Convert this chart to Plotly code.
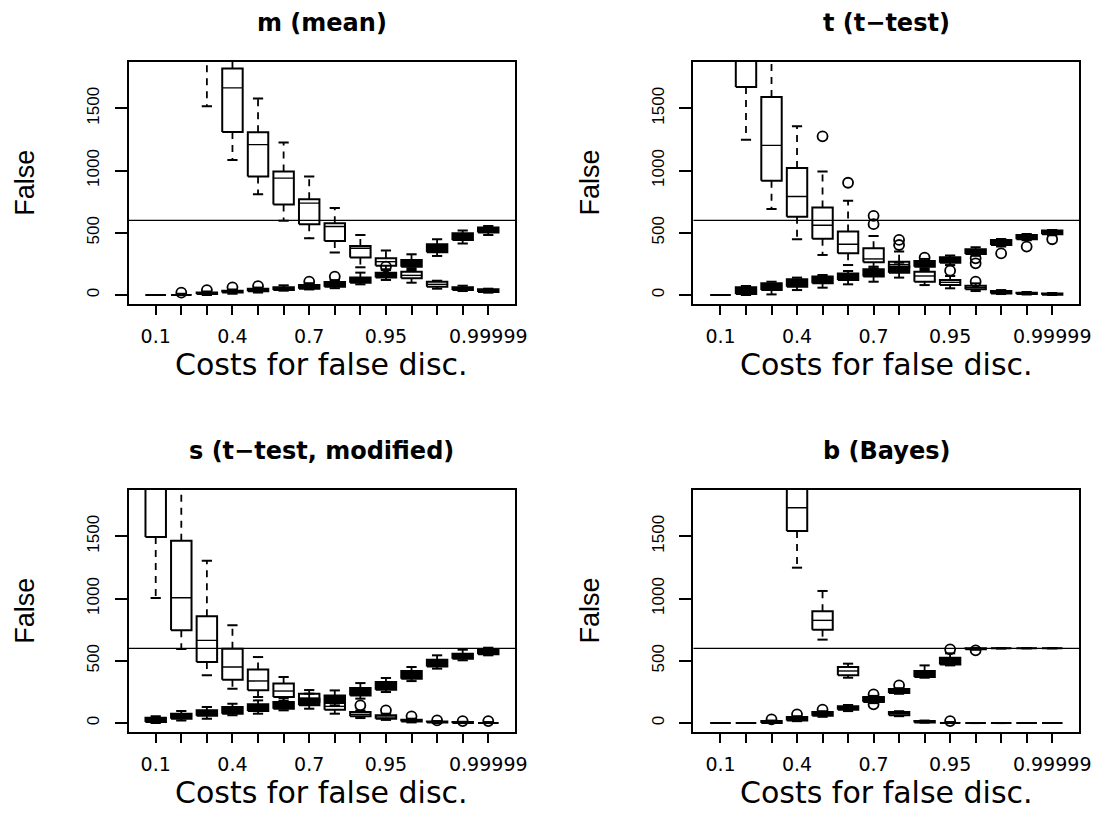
import plotly.graph_objects as go

# ---------------- data ----------------
CATEGORIES = ["0.1", "0.2", "0.3", "0.4", "0.5", "0.6", "0.7", "0.8", "0.9",
              "0.95", "0.99", "0.999", "0.9999", "0.99999"]
SHOWN_LABELS = ["0.1", "0.4", "0.7", "0.95", "0.99999"]
Y_TICKS = [0, 500, 1000, 1500]
Y_LIM = [0, 1800]
REF_LINE = 600

PANEL_TITLES = ["m (mean)", "t (t\u2212test)", "s (t\u2212test, modified)", "b (Bayes)"]
X_TITLE = "Costs for false disc."
Y_TITLE = "False"

# each box: (lower whisker, Q1, median, Q3, upper whisker)
# "white" boxes = open boxes, "black" boxes = filled boxes
M_WHITE = [(2350, 2700, 2900, 3100, 3500), (1950, 2300, 2500, 2700, 3100),
           (1516, 1950, 2100, 2300, 2700), (1084, 1309, 1664, 1819, 2050),
           (810, 953, 1208, 1307, 1578), (596, 727, 939, 993, 1226),
           (456, 569, 738, 770, 953), (341, 435, 550, 577, 700),
           (223, 301, 376, 394, 483), (200, 236, 268, 295, 357),
           (99, 134, 158, 188, 215), (51, 67, 86, 107, 115),
           (32, 40, 51, 62, 75), (19, 24, 35, 46, 51)]
M_WHITE_OUT = [[], [], [], [], [], [], [], [], [], [], [], [], [], []]
M_BLACK = [(0, 0, 0, 0, 0), (0, 0, 3, 6, 10), (0, 8, 14, 20, 28),
           (10, 20, 27, 34, 45), (20, 30, 40, 50, 60), (35, 40, 52, 62, 78),
           (45, 51, 65, 80, 95), (55, 67, 85, 105, 120), (86, 99, 120, 140, 180),
           (121, 140, 160, 180, 207), (201, 228, 250, 282, 327),
           (314, 343, 376, 408, 448), (413, 443, 470, 496, 518),
           (483, 502, 523, 542, 555)]
M_BLACK_OUT = [[], [19], [40], [62], [72], [], [107], [148], [], [228], [], [], [], []]

T_WHITE = [(2400, 2700, 2900, 3100, 3500), (1248, 1672, 2000, 2300, 2700),
           (692, 918, 1202, 1591, 2000), (448, 628, 792, 1020, 1355),
           (322, 453, 561, 703, 993), (241, 335, 408, 510, 757),
           (215, 263, 290, 376, 475), (200, 228, 245, 268, 349),
           (80, 107, 153, 188, 215), (54, 80, 102, 121, 153),
           (32, 46, 60, 75, 94), (8, 13, 22, 32, 40),
           (4, 8, 13, 19, 24), (0, 3, 8, 13, 16)]
T_WHITE_OUT = [[], [], [], [], [1275], [902], [569, 636], [402, 443], [], [196], [107], [], [], []]
T_BLACK = [(0, 0, 0, 0, 0), (0, 8, 35, 62, 72), (5, 40, 67, 94, 107),
           (40, 67, 94, 126, 140), (59, 94, 121, 148, 161), (86, 121, 148, 174, 193),
           (107, 148, 180, 207, 228), (140, 180, 205, 228, 260),
           (201, 228, 250, 274, 290), (241, 260, 280, 303, 317),
           (315, 330, 350, 368, 384), (390, 402, 420, 443, 450),
           (440, 448, 465, 483, 490), (480, 488, 500, 518, 522)]
T_BLACK_OUT = [[], [], [], [], [], [], [], [], [300], [], [295, 255], [335], [389], [448]]

S_WHITE = [(1004, 1495, 2000, 2400, 2900), (595, 745, 1007, 1465, 2000),
           (383, 490, 664, 857, 1304), (276, 348, 450, 597, 785),
           (209, 263, 338, 431, 530), (180, 209, 257, 317, 370),
           (150, 170, 200, 236, 265), (75, 107, 134, 161, 180),
           (40, 54, 70, 88, 100), (25, 35, 48, 62, 75),
           (5, 13, 20, 27, 35), (0, 5, 9, 13, 16),
           (0, 0, 4, 8, 10), (0, 0, 2, 5, 8)]
S_WHITE_OUT = [[], [], [], [], [], [], [], [], [142], [102], [54], [21], [16], [16]]
S_BLACK = [(0, 8, 27, 43, 54), (21, 35, 59, 75, 96), (35, 59, 80, 102, 129),
           (62, 75, 102, 129, 155), (75, 96, 123, 150, 182), (102, 115, 142, 169, 201),
           (115, 142, 169, 196, 236), (142, 169, 196, 222, 262),
           (196, 222, 254, 281, 321), (249, 268, 297, 329, 362),
           (337, 356, 391, 418, 450), (437, 455, 485, 509, 544),
           (504, 517, 538, 557, 589), (544, 552, 571, 589, 605)]
S_BLACK_OUT = [[], [], [], [], [], [], [], [], [], [], [], [], [], []]

B_WHITE = [(2800, 3100, 3300, 3500, 3800), (2400, 2700, 2900, 3100, 3400),
           (1950, 2200, 2400, 2600, 2900), (1248, 1543, 1730, 1950, 2300),
           (670, 750, 825, 897, 1061), (364, 383, 418, 450, 477),
           (165, 175, 190, 205, 215), (55, 62, 75, 88, 95),
           (3, 5, 10, 16, 20), (0, 1, 3, 5, 8),
           (0, 0, 0, 0, 0), (0, 0, 0, 0, 0), (0, 0, 0, 0, 0), (0, 0, 0, 0, 0)]
B_WHITE_OUT = [[], [], [], [], [], [], [150], [], [], [16], [], [], [], []]
B_BLACK = [(0, 0, 0, 0, 0), (0, 0, 0, 0, 0), (0, 0, 8, 16, 20),
           (15, 21, 35, 48, 55), (50, 59, 75, 88, 95), (96, 107, 121, 134, 145),
           (160, 169, 193, 210, 218), (235, 241, 257, 273, 280),
           (364, 370, 395, 418, 463), (463, 471, 500, 525, 560),
           (589, 592, 596, 600, 603), (600, 600, 600, 600, 600),
           (600, 600, 600, 600, 600), (600, 600, 600, 600, 600)]
B_BLACK_OUT = [[], [], [30], [70], [107], [], [230], [303], [], [592], [584], [], [], []]

PANELS = [
    (M_WHITE, M_WHITE_OUT, M_BLACK, M_BLACK_OUT),
    (T_WHITE, T_WHITE_OUT, T_BLACK, T_BLACK_OUT),
    (S_WHITE, S_WHITE_OUT, S_BLACK, S_BLACK_OUT),
    (B_WHITE, B_WHITE_OUT, B_BLACK, B_BLACK_OUT),
]

# ---------------- styling / layout ----------------
W, H = 1112, 815
BOX_HALF = 0.4      # boxwex 0.8
STAPLE_HALF = 0.2   # staplewex 0.5
X_DOMAINS = [[130 / W, 521 / W], [701 / W, 1091 / W]]
Y_DOMAINS = [[1 - 304 / H, 1 - 62 / H], [1 - 732 / H, 1 - 490 / H]]


def box_traces(stats, outs, fillcolor, xa, ya):
    bx, by, mx, my, wx, wy, sx, sy, ox, oy = [], [], [], [], [], [], [], [], [], []
    for i, (lo, q1, med, q3, hi) in enumerate(stats):
        c = i + 1
        wx += [c, c, None, c, c, None]
        wy += [q3, hi, None, q1, lo, None]
        sx += [c - STAPLE_HALF, c + STAPLE_HALF, None, c - STAPLE_HALF, c + STAPLE_HALF, None]
        sy += [hi, hi, None, lo, lo, None]
        bx += [c - BOX_HALF, c + BOX_HALF, c + BOX_HALF, c - BOX_HALF, c - BOX_HALF, None]
        by += [q1, q1, q3, q3, q1, None]
        mx += [c - BOX_HALF, c + BOX_HALF, None]
        my += [med, med, None]
        for v in outs[i]:
            ox.append(c)
            oy.append(v)
    common = dict(xaxis=xa, yaxis=ya, showlegend=False, hoverinfo="skip")
    return [
        go.Scatter(x=wx, y=wy, mode="lines", line=dict(color="black", width=1.8, dash="7px,6px"), **common),
        go.Scatter(x=sx, y=sy, mode="lines", line=dict(color="black", width=2), **common),
        go.Scatter(x=bx, y=by, mode="lines", fill="toself", fillcolor=fillcolor,
                   line=dict(color="black", width=2), **common),
        go.Scatter(x=mx, y=my, mode="lines", line=dict(color="black", width=1.4), **common),
        go.Scatter(x=ox, y=oy, mode="markers",
                   marker=dict(symbol="circle-open", size=10, color="black", line=dict(width=1.8)),
                   **common),
    ]


fig = go.Figure()
pad = 0.04 * (Y_LIM[1] - Y_LIM[0])
y_range = [Y_LIM[0] - pad, Y_LIM[1] + pad]
n = len(CATEGORIES)
xpad = 0.04 * n
x_range = [0.5 - xpad, n + 0.5 + xpad]
ticktext = [c if c in SHOWN_LABELS else "" for c in CATEGORIES]

annotations = []
shapes = []
for p, (wst, wout, bst, bout) in enumerate(PANELS):
    row, col = divmod(p, 2)
    idx = "" if p == 0 else str(p + 1)
    xa, ya = "x" + idx, "y" + idx
    for tr in box_traces(wst, wout, "white", xa, ya):
        fig.add_trace(tr)
    for tr in box_traces(bst, bout, "black", xa, ya):
        fig.add_trace(tr)
    fig.layout["xaxis" + idx] = dict(
        domain=X_DOMAINS[col], anchor=ya, range=x_range,
        tickmode="array", tickvals=list(range(1, n + 1)), ticktext=ticktext,
        ticks="outside", ticklen=9, tickwidth=1.6, tickcolor="black",
        showline=True, mirror=True, linecolor="black", linewidth=2,
        showgrid=False, zeroline=False, ticklabelstandoff=5,
        tickfont=dict(family="DejaVu Sans", size=19, color="black"))
    fig.layout["yaxis" + idx] = dict(
        domain=Y_DOMAINS[row], anchor=xa, range=y_range,
        tickmode="array", tickvals=Y_TICKS, ticktext=[str(v) for v in Y_TICKS],
        tickangle=-90, ticks="outside", ticklen=12, tickwidth=1.6, tickcolor="black",
        showline=True, mirror=True, linecolor="black", linewidth=2,
        showgrid=False, zeroline=False, ticklabelstandoff=9,
        tickfont=dict(family="Liberation Sans", size=17, color="black"))
    shapes.append(dict(type="line", xref=xa + " domain", yref=ya, x0=0, x1=1,
                       y0=REF_LINE, y1=REF_LINE, line=dict(color="black", width=1.4)))
    xd, yd = X_DOMAINS[col], Y_DOMAINS[row]
    xc = (xd[0] + xd[1]) / 2
    annotations.append(dict(text="<b>" + PANEL_TITLES[p] + "</b>", xref="paper", yref="paper",
                            x=xc, y=yd[1] + 39 / H, xanchor="center", yanchor="middle",
                            showarrow=False, font=dict(family="DejaVu Sans", size=24, color="black")))
    annotations.append(dict(text=X_TITLE, xref="paper", yref="paper",
                            x=xc, y=yd[0] - 60 / H, xanchor="center", yanchor="middle",
                            showarrow=False, font=dict(family="DejaVu Sans", size=30, color="black")))
    annotations.append(dict(text=Y_TITLE, xref="paper", yref="paper", textangle=-90,
                            x=xd[0] - 105 / W, y=(yd[0] + yd[1]) / 2, xanchor="center", yanchor="middle",
                            showarrow=False, font=dict(family="Liberation Sans", size=27, color="black")))

fig.update_layout(width=W, height=H, margin=dict(l=0, r=0, t=0, b=0),
                  paper_bgcolor="white", plot_bgcolor="white",
                  annotations=annotations, shapes=shapes, showlegend=False)

fig.write_html("out.html")
